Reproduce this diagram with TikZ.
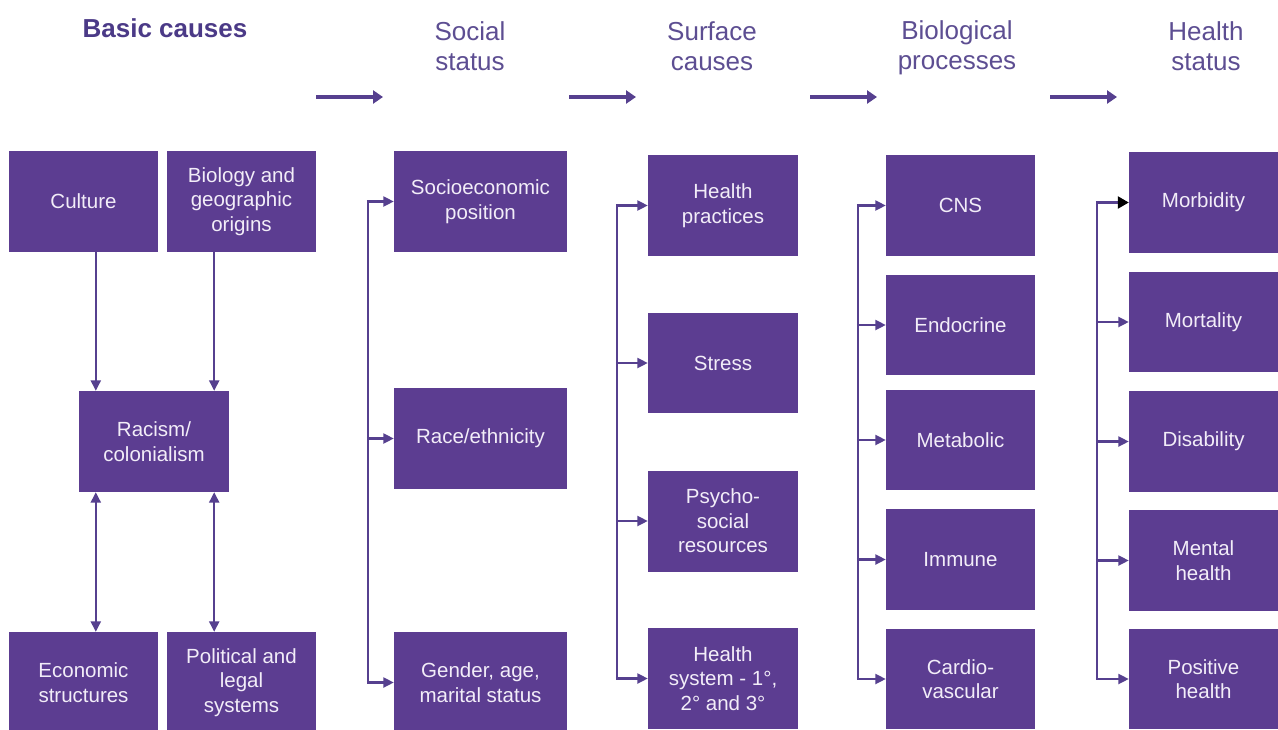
\documentclass[tikz,border=0pt]{standalone}
\usepackage{fontspec}
\setmainfont{Liberation Sans}
\usetikzlibrary{arrows.meta}
\definecolor{boxfill}{HTML}{5C3D91}
\definecolor{linec}{HTML}{56408F}
\definecolor{headc}{HTML}{4B3A87}
\definecolor{headl}{HTML}{5D4E92}
\definecolor{boxtext}{HTML}{F2EDF8}
\begin{document}
\begin{tikzpicture}[x=1pt,y=-1pt,
  box/.style={fill=boxfill, draw=none, text=boxtext, align=center,
    font=\fontsize{20.5}{24.5}\selectfont, inner sep=0pt,
    minimum width=149pt, minimum height=101pt},
  head/.style={text=headl, align=center, font=\fontsize{26}{30.5}\selectfont, inner sep=0pt},
  conn/.style={draw=linec, line width=2.3pt},
  tip/.style={-{Triangle[length=10.5pt,width=10pt]}},
  dtip/.style={{Triangle[length=10.5pt,width=10pt]}-{Triangle[length=10.5pt,width=10pt]}},
  bigarrow/.style={draw=linec, line width=4pt, -{Triangle[length=10pt,width=13pt]}}]
\useasboundingbox (0,0) rectangle (1278,729);
\fill[white] (0,0) rectangle (1278,729);
\clip (0,0) rectangle (1278,729);

% headings
\node[head, text=headc, font=\bfseries\fontsize{26}{30}\selectfont] (h1) at (165,28) {Basic causes};
\node[head] (h2) at (470,46) {Social\\status};
\node[head] (h3) at (712,46) {Surface\\causes};
\node[head] (h4) at (957,48) {Biological\\processes};
\node[head] (h5) at (1206,46) {Health\\status};

% top arrows
\coordinate (a1s) at (316,97); \coordinate (a1e) at (383,97);
\coordinate (a2s) at (569,97); \coordinate (a2e) at (636,97);
\coordinate (a3s) at (810,97); \coordinate (a3e) at (877,97);
\coordinate (a4s) at (1050,97); \coordinate (a4e) at (1117,97);
\draw[bigarrow] (a1s) -- (a1e);
\draw[bigarrow] (a2s) -- (a2e);
\draw[bigarrow] (a3s) -- (a3e);
\draw[bigarrow] (a4s) -- (a4e);

% basic causes
\node[box] (culture) at (83.5,201.5) {Culture};
\node[box] (biology) at (241.5,201.5) {Biology and\\geographic\\origins};
\node[box, minimum width=150pt] (racism) at (154,441.5) {Racism/\\colonialism};
\node[box] (economic) at (83.5,682.5) {Economic\\structures};
\node[box] (political) at (241.5,682.5) {Political and\\legal\\systems};

\draw[conn,tip] ([xshift=17]racism.north west |- culture.south) -- ([xshift=17]racism.north west);
\draw[conn,tip] ([xshift=-15]racism.north east |- biology.south) -- ([xshift=-15]racism.north east);
\draw[conn,dtip] ([xshift=17]racism.south west) -- ([xshift=17]racism.south west |- economic.north);
\draw[conn,dtip] ([xshift=-15]racism.south east) -- ([xshift=-15]racism.south east |- political.north);

% social status
\node[box, minimum width=173pt] (socio) at (480.5,201.5) {Socioeconomic\\position};
\node[box, minimum width=173pt] (race) at (480.5,438.5) {Race/ethnicity};
\node[box, minimum width=173pt] (gender) at (480.5,682.5) {Gender, age,\\marital status};
\draw[conn] ([xshift=-26]socio.west) -- ([xshift=-26]gender.west);
\foreach \n in {socio,race,gender}
  \draw[conn,tip] ([xshift=-27]\n.west) -- (\n.west);

% surface causes
\node[box, minimum width=150pt] (practices) at (723,205.5) {Health\\practices};
\node[box, minimum width=150pt, minimum height=100pt] (stress) at (723,363) {Stress};
\node[box, minimum width=150pt] (psycho) at (723,521) {Psycho-\\social\\resources};
\node[box, minimum width=150pt] (system) at (723,678.5) {Health\\system - 1°,\\2° and 3°};
\draw[conn] ([xshift=-31]practices.west) -- ([xshift=-31]system.west);
\foreach \n in {practices,stress,psycho,system}
  \draw[conn,tip] ([xshift=-32]\n.west) -- (\n.west);

% biological processes
\node[box] (cns) at (960.5,205.5) {CNS};
\node[box, minimum height=100pt] (endo) at (960.5,325) {Endocrine};
\node[box, minimum height=100pt] (meta) at (960.5,440) {Metabolic};
\node[box] (immune) at (960.5,559.5) {Immune};
\node[box, minimum height=100pt] (cardio) at (960.5,679) {Cardio-\\vascular};
\draw[conn] ([xshift=-28]cns.west) -- ([xshift=-28]cardio.west);
\foreach \n in {cns,endo,meta,immune,cardio}
  \draw[conn,tip] ([xshift=-29]\n.west) -- (\n.west);

% health status
\node[box] (morb) at (1203.5,202.5) {Morbidity};
\node[box, minimum height=100pt] (mort) at (1203.5,322) {Mortality};
\node[box] (disab) at (1203.5,441.5) {Disability};
\node[box] (mental) at (1203.5,560.5) {Mental\\health};
\node[box, minimum height=100pt] (positive) at (1203.5,679) {Positive\\health};
\draw[conn] ([xshift=-32]morb.west) -- ([xshift=-32]positive.west);
\draw[conn,-{Triangle[length=11pt,width=12pt,color=black]}] ([xshift=-33]morb.west) -- (morb.west);
\foreach \n in {mort,disab,mental,positive}
  \draw[conn,tip] ([xshift=-33]\n.west) -- (\n.west);
\end{tikzpicture}
\end{document}
